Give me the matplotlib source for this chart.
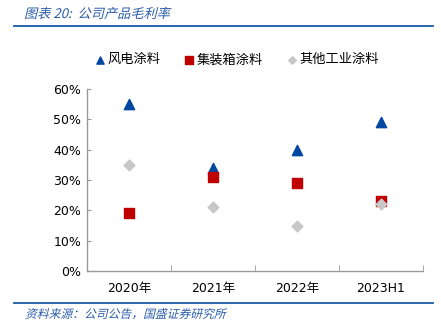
import matplotlib.pyplot as plt
import numpy as np
from matplotlib.textpath import TextPath
from matplotlib.patches import PathPatch
from matplotlib.font_manager import FontProperties
from matplotlib.transforms import Affine2D

plt.rcParams['font.family'] = ['DejaVu Sans', 'Noto Sans CJK SC']

# data
years = ['2020年', '2021年', '2022年', '2023H1']
wind = [55, 34, 40, 49]          # 风电涂料
container = [19, 31, 29, 23]     # 集装箱涂料
other = [35, 21, 15, 22]         # 其他工业涂料

fig = plt.figure(figsize=(4.41, 3.36), dpi=100)
ax = fig.add_axes([0.197, 0.193, 0.762, 0.542])

x = np.arange(len(years))
ax.scatter(x, wind, marker='^', s=55, color='#0047a0', label='风电涂料', zorder=3)
ax.scatter(x, container, marker='s', s=55, color='#c00000', label='集装箱涂料', zorder=3)
ax.scatter(x, other, marker='D', s=30, color='#c8c8c8', label='其他工业涂料', zorder=4)

ax.set_xlim(-0.5, len(years) - 0.5)
ax.set_ylim(0, 60)
ax.set_yticks(range(0, 61, 10))
ax.set_yticklabels([f'{v}%' for v in range(0, 61, 10)], fontsize=9)
ax.set_xticks(x)
ax.set_xticklabels(years, fontsize=9, family=['DejaVu Sans', 'Noto Sans CJK SC'])
ax.set_xticks(np.arange(-0.5, len(years), 1), minor=True)
ax.tick_params(axis='x', which='major', length=0, pad=8)
ax.tick_params(axis='x', which='minor', length=4, direction='in', color='#999999')
ax.tick_params(axis='y', length=3, direction='in', color='#999999', pad=4)

for s in ['top', 'right']:
    ax.spines[s].set_visible(False)
for s in ['left', 'bottom']:
    ax.spines[s].set_color('#999999')
    ax.spines[s].set_linewidth(1)

fig.legend(loc='center', bbox_to_anchor=(0.535, 0.822), ncol=3, frameon=False,
           prop={'family': 'Noto Sans CJK SC', 'size': 9.5}, markerscale=0.7,
           handletextpad=0.05, columnspacing=1.7, handlelength=1.0)


# italic-looking text: skewed text path
def slanted(s, x_px, y_px, size, color):
    fp = FontProperties(family='Noto Sans CJK SC')
    path = TextPath((0, 0), s, size=size, prop=fp)
    tr = Affine2D().skew_deg(14, 0).scale(1 / 72).translate(x_px / 100, y_px / 100) + fig.dpi_scale_trans
    fig.add_artist(PathPatch(path, transform=tr, color=color, lw=0))


blue = '#1a5aa8'
slanted('图表 20:  公司产品毛利率', 24, 318, 9.5, '#2a5caa')
fig.add_artist(plt.Line2D([0.032, 0.982], [0.922, 0.922], color=blue, lw=1.3))
fig.add_artist(plt.Line2D([0.032, 0.982], [0.098, 0.098], color=blue, lw=1.3))
slanted('资料来源：公司公告，国盛证券研究所', 25, 18, 8.5, '#2a5caa')

fig.savefig('out.png', dpi=100)
